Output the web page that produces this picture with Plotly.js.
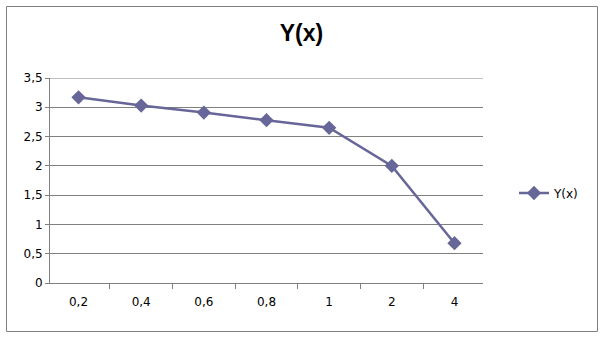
<!DOCTYPE html>
<html>
<head>
<meta charset="utf-8">
<script src="https://cdn.plot.ly/plotly-3.0.1.min.js"></script>
<style>html,body{margin:0;padding:0;background:#fff;}#chart{width:603px;height:338px;}</style>
</head>
<body>
<div id="chart"></div>
<script>
const categories = ["0,2", "0,4", "0,6", "0,8", "1", "2", "4"];
const yValues = [3.17, 3.03, 2.91, 2.78, 2.65, 2.0, 0.68];
const seriesName = "Y(x)";
const chartTitle = "Y(x)";
const yMax = 3.5;

const color = "#666699";
const trace = {
  x: categories,
  y: yValues,
  type: "scatter",
  mode: "lines+markers",
  name: seriesName,
  line: {color: color, width: 2.5},
  marker: {symbol: "diamond", size: 11, color: color}
};

const L = 50, R = 483, T = 78, B = 283;
const pw = R - L, ph = B - T;
const px = v => (v - L) / pw;
const py = v => (B - v) / ph;
const tickFont = {family: "DejaVu Sans, Verdana, sans-serif", size: 12, color: "#000"};

const layout = {
  width: 603, height: 338,
  margin: {l: L, r: 603 - R, t: T, b: 338 - B, pad: 0},
  paper_bgcolor: "#fff", plot_bgcolor: "#fff",
  separators: ",.",
  font: tickFont,
  title: {text: "<b>" + chartTitle + "</b>", font: {family: "Liberation Sans, Arial, sans-serif", size: 23, color: "#000"},
          x: 0.5, xref: "container", xanchor: "center", y: 1 - 33/338, yref: "container", yanchor: "middle"},
  xaxis: {
    type: "category", showgrid: false, showline: true, linecolor: "#808080", linewidth: 1,
    ticks: "outside", tickson: "boundaries", ticklen: 5, tickcolor: "#808080",
    tickfont: tickFont, ticklabelstandoff: 8, zeroline: false, fixedrange: true
  },
  yaxis: {
    range: [0, yMax], dtick: 0.5, tick0: 0, showgrid: true, gridcolor: "#808080", gridwidth: 1,
    showline: true, linecolor: "#808080", linewidth: 1, ticks: "outside", ticklen: 4, tickcolor: "#808080",
    zeroline: false, tickfont: tickFont, fixedrange: true
  },
  showlegend: true,
  legend: {x: px(514), y: py(193), xanchor: "left", yanchor: "middle", bgcolor: "rgba(0,0,0,0)",
           font: tickFont, itemwidth: 30},
  shapes: [
    {type: "rect", xref: "paper", yref: "paper", x0: px(6.5), x1: px(597.5), y0: py(331.5), y1: py(6.5),
     line: {color: "#808080", width: 1}, layer: "below"},
    {type: "line", xref: "paper", yref: "y", x0: 0, x1: 1, y0: yMax, y1: yMax,
     line: {color: "#808080", width: 1}, layer: "below"}
  ]
};

Plotly.newPlot("chart", [trace], layout, {staticPlot: true, displayModeBar: false});
</script>
</body>
</html>
